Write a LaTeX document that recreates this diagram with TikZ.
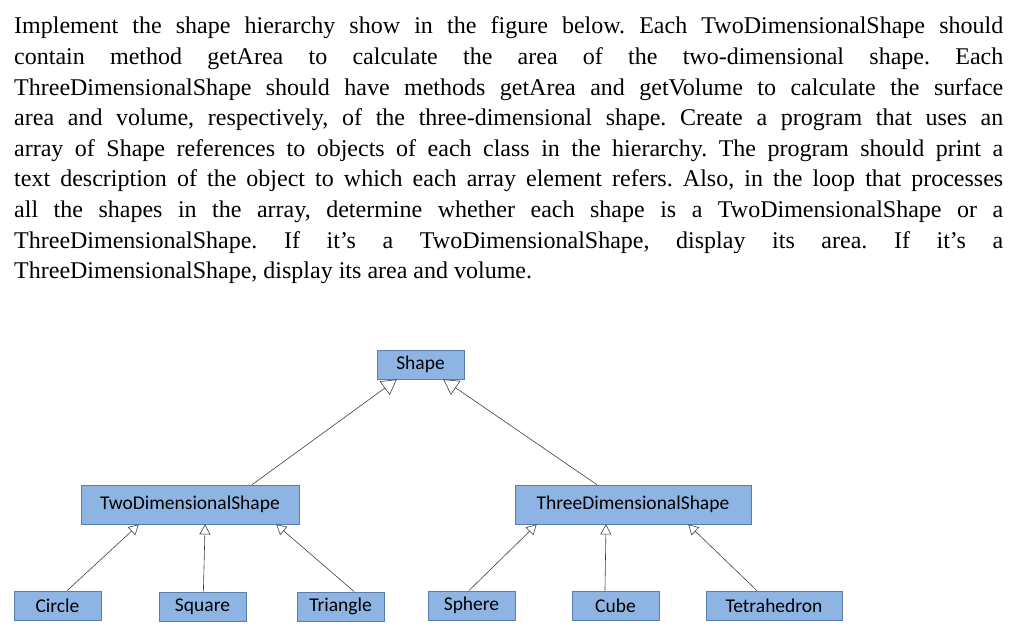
\documentclass[tikz,border=0pt]{standalone}
\usepackage{fontspec}
\setmainfont{Liberation Serif}
\newfontfamily\boxfont{Carlito}
\usetikzlibrary{arrows.meta,calc}
\definecolor{boxfill}{HTML}{8EB4E3}
\definecolor{boxline}{HTML}{5A7DAA}
\tikzset{
  cls/.style={draw=boxline,fill=boxfill,line width=0.8pt,inner sep=0pt,font=\boxfont\fontsize{19.5}{22}\selectfont},
  inh/.style={draw=black!75,line width=0.6pt,-{Triangle[open,length=10pt,width=11pt]}},
  inhbig/.style={draw=black!75,line width=0.6pt,-{Triangle[open,length=15pt,width=17pt]}},
  txt/.style={anchor=base west,inner sep=0pt,font=\fontsize{24}{28}\selectfont}
}
\newcommand{\jl}[1]{\makebox[989pt][s]{#1}}
\frenchspacing
\begin{document}
\begin{tikzpicture}[x=1pt,y=-1pt]
\useasboundingbox (0,0) rectangle (1024,628);
\foreach \i/\t in {
 0/{\jl{Implement the shape hierarchy show in the figure below. Each TwoDimensionalShape should}},
 1/{\jl{contain method getArea to calculate the area of the two-dimensional shape. Each}},
 2/{\jl{ThreeDimensionalShape should have methods getArea and getVolume to calculate the surface}},
 3/{\jl{area and volume, respectively, of the three-dimensional shape. Create a program that uses an}},
 4/{\jl{array of Shape references to objects of each class in the hierarchy. The program should print a}},
 5/{\jl{text description of the object to which each array element refers. Also, in the loop that processes}},
 6/{\jl{all the shapes in the array, determine whether each shape is a TwoDimensionalShape or a}},
 7/{\jl{ThreeDimensionalShape. If it's a TwoDimensionalShape, display its area. If it's a}},
 8/{ThreeDimensionalShape, display its area and volume.}}
  \node[txt] (l\i) at (14,{34+30.6*\i}) {\t};

\node[cls,minimum width=87pt,minimum height=29pt] (shape) at (420.5,364.5) {Shape};
\node[cls,minimum width=218pt,minimum height=39pt] (two) at (190,504.5) {TwoDimensionalShape};
\node[cls,minimum width=236pt,minimum height=39pt] (three) at (633,504.5) {ThreeDimensionalShape};
\node[cls,minimum width=87pt,minimum height=29pt] (circle) at (57.5,605.5) {Circle};
\node[cls,minimum width=87pt,minimum height=29pt] (square) at (202.5,606.5) {Square};
\node[cls,minimum width=87pt,minimum height=29pt] (triangle) at (340.5,606.5) {Triangle};
\node[cls,minimum width=87pt,minimum height=29pt] (sphere) at (471.5,605.5) {Sphere};
\node[cls,minimum width=87pt,minimum height=29pt] (cube) at (615.5,605.5) {Cube};
\node[cls,minimum width=136pt,minimum height=29pt] (tetra) at (774,605.5) {Tetrahedron};

\draw[inhbig] ($(two.north west)!0.784!(two.north east)$) -- ($(shape.south west)!0.23!(shape.south east)$);
\draw[inhbig] ($(three.north west)!0.347!(three.north east)$) -- ($(shape.south west)!0.76!(shape.south east)$);
\draw[inh] ($(circle.north west)!0.61!(circle.north east)$) -- ($(two.south west)!0.266!(two.south east)$);
\draw[inh] ($(square.north west)!0.51!(square.north east)$) -- ($(two.south west)!0.569!(two.south east)$);
\draw[inh] ($(triangle.north west)!0.655!(triangle.north east)$) -- ($(two.south west)!0.894!(two.south east)$);
\draw[inh] ($(sphere.north west)!0.47!(sphere.north east)$) -- ($(three.south west)!0.093!(three.south east)$);
\draw[inh] ($(cube.north west)!0.38!(cube.north east)$) -- ($(three.south west)!0.386!(three.south east)$);
\draw[inh] ($(tetra.north west)!0.375!(tetra.north east)$) -- ($(three.south west)!0.733!(three.south east)$);
\end{tikzpicture}
\end{document}
